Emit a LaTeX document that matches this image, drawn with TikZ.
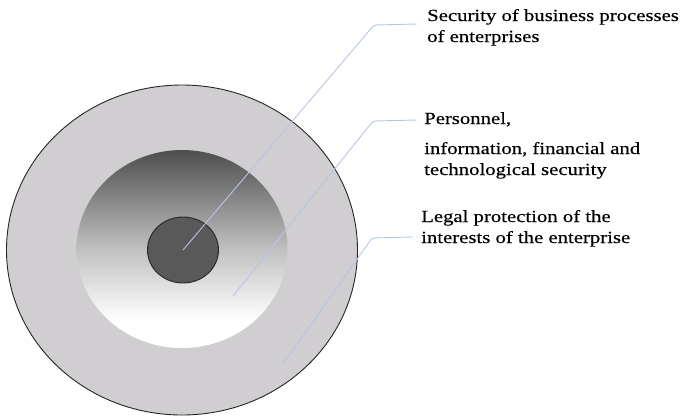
\documentclass[tikz,border=0pt]{standalone}
\usepackage{fontspec}
\setmainfont[FakeStretch=1.22,FakeBold=0.4]{Liberation Serif}
\usetikzlibrary{shapes.geometric}
\definecolor{ringgray}{RGB}{208,206,208}
\definecolor{coregray}{RGB}{89,89,89}
\definecolor{midtop}{RGB}{78,78,78}
\definecolor{midmid}{RGB}{192,192,192}
\definecolor{leadercol}{RGB}{182,198,228}
\pgfdeclareverticalshading{midshade}{100bp}{color(0bp)=(white); color(25bp)=(white); color(32bp)=(white); color(50bp)=(midmid); color(75bp)=(midtop); color(100bp)=(midtop)}
\tikzset{
  ring/.style={ellipse, draw=black!85, line width=0.9pt, inner sep=0pt},
  leadline/.style={draw=leadercol, line width=0.9pt, rounded corners=3pt},
  lbl/.style={anchor=base west, inner sep=0pt, font=\fontsize{17}{21}\selectfont},
}
\begin{document}
\begin{tikzpicture}[x=1pt,y=-1pt]
\useasboundingbox (0,0) rectangle (691,416);
\node[ring, fill=ringgray, minimum width=351pt, minimum height=330pt] (outer) at (182,250) {};
\node[ellipse, inner sep=0pt, minimum width=211pt, minimum height=198pt,
  shading=midshade] (middle) at (182,249) {};
\node[ring, fill=coregray, minimum width=71pt, minimum height=66pt] (core) at (183,250) {};

\node[lbl] (t1a) at (427,21) {Security of business processes};
\node[lbl] (t1b) at (427,42) {of enterprises};
\node[lbl] (t2a) at (424,124) {Personnel,};
\node[lbl] (t2b) at (424,154) {information, financial and};
\node[lbl] (t2c) at (424,175) {technological security};
\node[lbl] (t3a) at (421,222) {Legal protection of the};
\node[lbl] (t3b) at (421,243) {interests of the enterprise};

\coordinate (s2) at (233,296);
\coordinate (s3) at (283,364);
\coordinate (k1) at (374,25);
\coordinate (e1) at (417,24);
\coordinate (k2) at (373,121);
\coordinate (e2) at (417,120);
\coordinate (k3) at (372,238);
\coordinate (e3) at (413,237);

\draw[leadline] (core.center) -- (k1) -- (e1);
\draw[leadline] (s2) -- (k2) -- (e2);
\draw[leadline] (s3) -- (k3) -- (e3);
\end{tikzpicture}
\end{document}
